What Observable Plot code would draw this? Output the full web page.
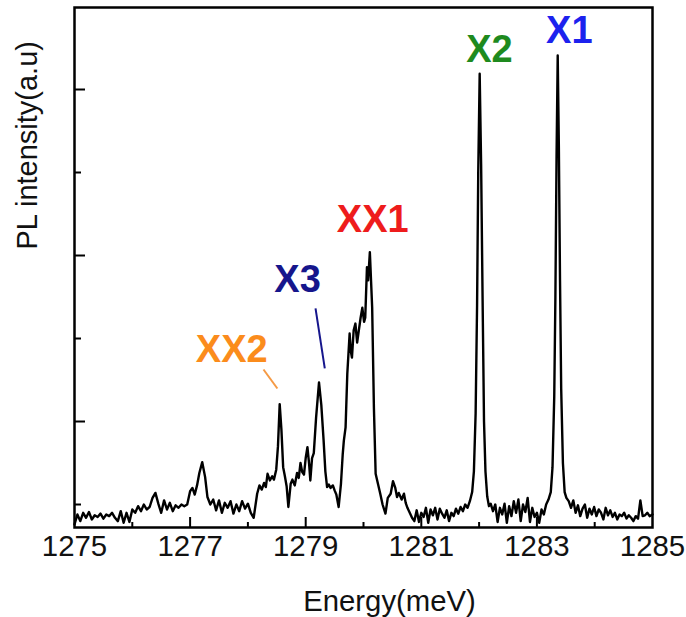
<!DOCTYPE html>
<html>
<head>
<meta charset="utf-8">
<script src="https://cdn.jsdelivr.net/npm/d3@7"></script>
<script src="https://cdn.jsdelivr.net/npm/@observablehq/plot@0.6"></script>
<style>
  html, body { margin: 0; padding: 0; background: #fff; }
</style>
</head>
<body>
<div id="chart"></div>
<script>
// ---- Spectrum (energy in meV, PL intensity in arbitrary units) ----
const energy = [
  1275.00,1275.05,1275.10,1275.15,1275.20,1275.25,1275.30,1275.35,1275.40,1275.45,1275.50,1275.55,1275.60,1275.65,1275.70,1275.75,1275.80,1275.85,1275.90,1275.95,1276.00,1276.05,1276.10,1276.15,1276.20,1276.25,1276.30,1276.35,1276.40,1276.45,1276.50,1276.55,1276.60,1276.65,1276.70,1276.75,1276.80,1276.85,1276.90,1276.95,1277.00,
  1277.04,1277.08,1277.12,1277.16,1277.21,1277.26,1277.30,1277.35,
  1277.40,1277.45,1277.50,1277.55,1277.60,1277.65,1277.70,1277.75,1277.80,1277.85,1277.90,1277.95,1278.00,1278.05,1278.10,
  1278.16,1278.20,1278.24,1278.28,1278.31,1278.34,1278.38,1278.42,1278.45,1278.49,
  1278.52,1278.55,1278.58,1278.61,1278.64,1278.67,1278.70,1278.74,1278.77,1278.81,
  1278.85,1278.88,1278.91,1278.94,1278.97,1279.00,1279.03,1279.06,1279.08,1279.11,
  1279.14,1279.18,1279.23,1279.27,1279.31,1279.34,1279.37,1279.40,1279.43,1279.47,
  1279.50,1279.53,1279.57,1279.61,1279.64,1279.66,1279.69,1279.72,1279.76,1279.78,
  1279.80,1279.83,1279.86,1279.89,1279.92,1279.95,1279.98,1280.01,1280.03,1280.06,
  1280.08,1280.11,1280.15,1280.18,1280.21,1280.25,1280.29,1280.33,1280.38,1280.42,
  1280.47,1280.51,1280.55,1280.58,1280.61,1280.66,1280.70,1280.73,1280.76,1280.80,
  1280.84,
  1280.88,1280.92,1280.96,1281.00,1281.04,1281.08,1281.12,1281.16,1281.20,1281.24,1281.28,1281.32,1281.36,1281.40,1281.44,1281.48,1281.52,1281.56,1281.60,1281.64,1281.68,1281.72,1281.76,1281.80,1281.84,
  1281.88,1281.91,1281.94,1281.965,1281.985,1282.01,1282.035,1282.06,1282.085,1282.11,1282.14,1282.17,1282.20,
  1282.24,1282.28,1282.32,1282.36,1282.40,1282.44,1282.48,1282.52,1282.56,1282.60,1282.64,1282.68,1282.72,1282.76,1282.80,1282.84,1282.88,1282.92,1282.96,1283.00,1283.04,1283.08,1283.12,1283.16,1283.20,
  1283.24,1283.27,1283.30,1283.32,1283.34,1283.36,1283.38,1283.40,1283.42,1283.45,1283.48,1283.51,
  1283.55,1283.59,1283.63,1283.67,1283.71,1283.75,1283.79,1283.83,1283.87,1283.91,1283.95,1283.99,1284.03,1284.07,1284.11,1284.15,1284.19,1284.23,1284.27,1284.31,1284.35,1284.39,1284.43,1284.47,1284.51,1284.55,1284.59,1284.63,1284.67,1284.71,1284.75,1284.79,1284.83,1284.87,1284.91,1284.95,1285.00
];
const intensity = [
  760,880,800,900,840,910,820,870,850,890,830,880,860,900,840,800,920,780,900,790,940,900,980,920,1000,940,970,1080,1140,1010,900,1050,940,1020,920,990,960,1000,980,1000,1160,
  1200,1120,1230,1380,1510,1330,1090,1000,
  1060,930,1050,900,1020,960,1040,890,1000,920,1040,950,1010,900,840,
  1130,1230,1180,1260,1210,1370,1290,1340,1300,1420,
  1700,2210,1900,1450,1340,1220,970,1250,1300,1230,
  1380,1320,1500,1390,1360,1560,1690,1480,1290,1560,
  1620,2050,2470,2200,1770,1400,1210,1240,1200,1230,
  1170,1120,970,1250,1600,1770,1930,2580,3060,2850,
  2770,3100,3180,2950,3100,3250,3370,3200,3250,3860,
  3700,4040,3370,2170,1370,1250,1130,1000,890,1080,
  1130,1280,1200,1090,1140,1060,1130,1020,960,900,
  840,
  800,930,790,900,850,960,780,940,870,960,820,950,890,840,930,800,900,860,950,890,970,920,1000,960,1040,
  1150,1400,2100,3400,5000,6190,5100,3500,2000,1400,1100,980,1010,
  920,1000,790,960,880,1010,780,980,860,1040,900,1060,800,1000,910,1080,790,960,850,900,780,940,880,1000,1060,
  1150,1450,2300,3500,5200,6410,5300,3700,2400,1500,1150,1080,
  1040,960,1050,900,990,860,950,1000,840,950,880,970,860,940,900,820,960,870,930,850,900,820,880,860,900,830,870,840,800,860,830,1050,860,870,900,860,880
];
if (energy.length !== intensity.length) console.error("length mismatch", energy.length, intensity.length);

// ---- Axes ----
const xDomain = [1275, 1285];
const yDomain = [723, 6988];
const xTickLabels = [1275, 1277, 1279, 1281, 1283, 1285];
const xMajorTicks = [1277, 1279, 1281, 1283];
const xMinorTicks = [1276, 1278, 1280, 1282, 1284];
const yMajorTicks = [2000, 4000, 6000];
const yMinorTicks = [1000, 3000, 5000];
const xTitle = "Energy(meV)";
const yTitle = "PL intensity(a.u)";

// ---- Peak annotations (label text, colour, label anchor, leader lines) ----
const peakNames = ["X1", "X2", "X3", "XX1", "XX2"];
const peakColors = ["#1c22ee", "#1e8a1e", "#16168c", "#ee1c1c", "#fb8c1c"];
const peakLabelE = [1283.56, 1282.18, 1278.86, 1280.16, 1277.72];
const peakLabelV = [6555, 6326, 3555, 4278, 2711];
const leaderNames = ["X3", "XX2"];
const leaderColors = ["#16168c", "#f59a45"];
const leaderE1 = [1279.17, 1278.27];
const leaderV1 = [3362, 2627];
const leaderE2 = [1279.33, 1278.51];
const leaderV2 = [2639, 2398];

const spectrum = energy.map((e, i) => ({e, v: intensity[i]}));
const peaks = peakNames.map((n, i) => ({n, c: peakColors[i], e: peakLabelE[i], v: peakLabelV[i]}));
const leaders = leaderNames.map((n, i) => ({n, c: leaderColors[i], e1: leaderE1[i], v1: leaderV1[i], e2: leaderE2[i], v2: leaderV2[i]}));

const W = 686, H = 617;
const mL = 74, mR = 34, mT = 7, mB = 90;
const plotW = W - mL - mR, plotH = H - mT - mB;
const font = "'Liberation Sans', Arial, Helvetica, sans-serif";

const svg = Plot.plot({
  width: W,
  height: H,
  marginLeft: mL,
  marginRight: mR,
  marginTop: mT,
  marginBottom: mB,
  style: {fontFamily: font, background: "#fff", overflow: "visible"},
  x: {domain: xDomain, axis: null},
  y: {domain: yDomain, axis: null},
  marks: [
    Plot.line(spectrum, {x: "e", y: "v", stroke: "#000", strokeWidth: 2.4, strokeLinejoin: "round"}),
    // inward ticks
    Plot.ruleX(xMajorTicks, {x: d => d, insetTop: plotH - 10, stroke: "#000", strokeWidth: 2}),
    Plot.ruleX(xMinorTicks, {x: d => d, insetTop: plotH - 5, stroke: "#000", strokeWidth: 2}),
    Plot.ruleY(yMajorTicks, {y: d => d, insetRight: plotW - 11, stroke: "#000", strokeWidth: 2}),
    Plot.ruleY(yMinorTicks, {y: d => d, insetRight: plotW - 7, stroke: "#000", strokeWidth: 2}),
    Plot.frame({stroke: "#000", strokeWidth: 2.5}),
    // tick labels
    Plot.text(xTickLabels, {x: d => d, text: d => String(d), frameAnchor: "bottom", lineAnchor: "top", dy: 8,
      fontSize: 29.4, fill: "#111", ariaLabel: "xticklabels"}),
    // axis titles
    Plot.text([xTitle], {text: d => d, frameAnchor: "bottom", lineAnchor: "bottom", dx: 26, dy: 83,
      fontSize: 29.3, fill: "#111", ariaLabel: "xtitle"}),
    Plot.text([yTitle], {text: d => d, frameAnchor: "left", rotate: -90, lineAnchor: "bottom", dx: -38, dy: -18,
      fontSize: 29, fill: "#111", ariaLabel: "ytitle"}),
    // leader lines
    Plot.link(leaders, {x1: "e1", y1: "v1", x2: "e2", y2: "v2", stroke: "c", strokeWidth: 2}),
    // peak labels
    Plot.text(peaks, {x: "e", y: "v", text: "n", fill: "c", lineAnchor: "bottom", fontSize: 38, fontWeight: "bold",
      ariaLabel: "peaklabels"})
  ]
});

// vertically stretch text about its anchor point (the reference glyphs are tall)
function stretch(label, k) {
  svg.querySelectorAll(`g[aria-label="${label}"] text`).forEach(t => {
    const x = parseFloat(t.getAttribute("x") || 0) || 0;
    const y = parseFloat(t.getAttribute("y") || 0) || 0;
    let px = x, py = y;
    const tl = t.transform.baseVal;
    const m = tl.numberOfItems ? tl.consolidate().matrix : null;
    if (m) { px = m.a * x + m.c * y + m.e; py = m.b * x + m.d * y + m.f; }
    const orig = t.getAttribute("transform") || "";
    t.setAttribute("transform", `translate(${px},${py}) scale(1,${k}) translate(${-px},${-py}) ${orig}`);
  });
}
stretch("xticklabels", 1.27);
stretch("xtitle", 1.19);
stretch("ytitle", 1.08);

document.getElementById("chart").appendChild(svg);
</script>
</body>
</html>
